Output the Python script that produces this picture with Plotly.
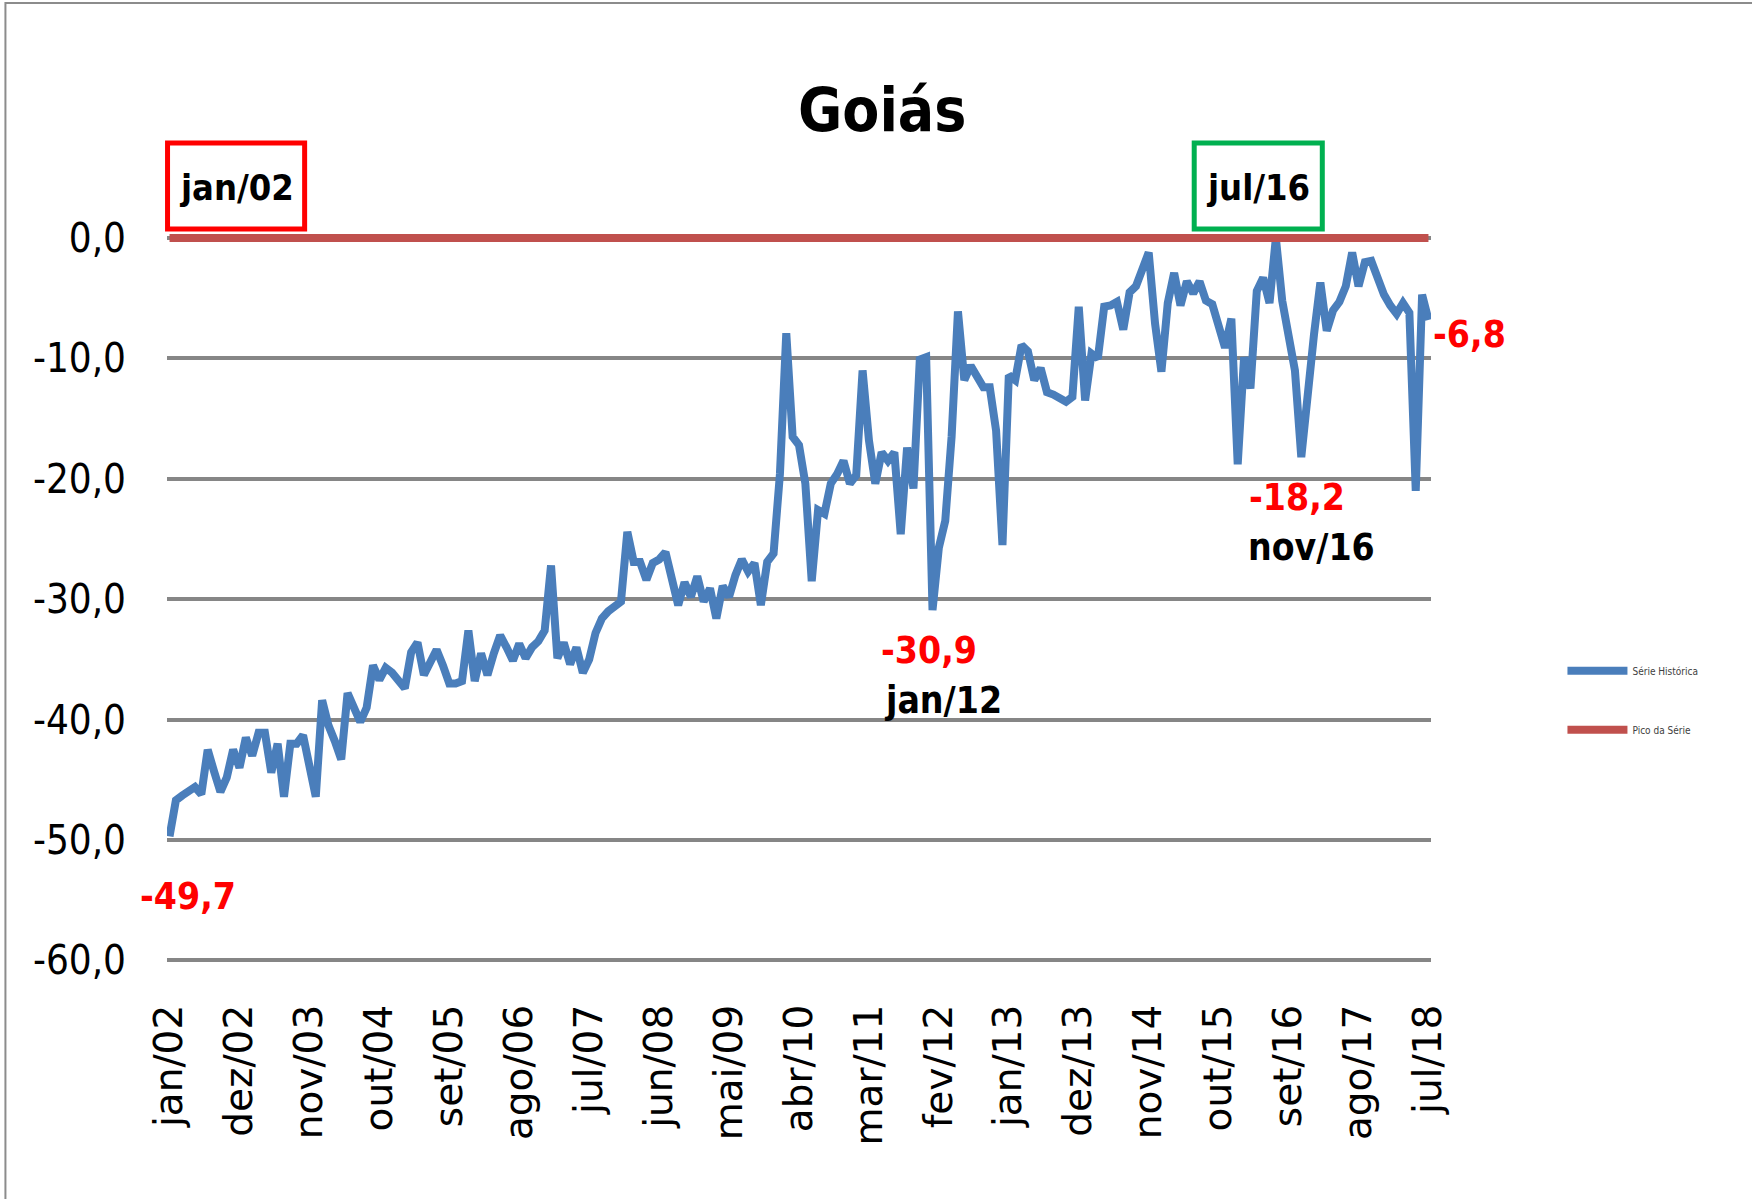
import plotly.graph_objects as go

# ---------------- data ----------------
months_pt = ["jan", "fev", "mar", "abr", "mai", "jun", "jul", "ago", "set", "out", "nov", "dez"]
# monthly series jan/02 .. jul/18
periods = [f"{months_pt[m]}/{str(y)[2:]}" for y in range(2002, 2019) for m in range(12)][:199]

serie_historica = [
    -49.7, -46.7, -46.3, -46.0, -45.6, -46.2, -42.5, -44.3, -46.0, -44.8,
    -42.5, -44.0, -41.5, -43.0, -41.1, -41.1, -44.4, -42.0, -46.4, -42.0,
    -42.0, -41.3, -43.8, -46.4, -38.4, -40.5, -41.8, -43.3, -37.8, -39.2,
    -40.2, -39.0, -35.5, -36.7, -35.7, -36.1, -36.8, -37.4, -34.4, -33.6,
    -36.3, -35.2, -34.2, -35.5, -37.0, -37.0, -36.8, -32.6, -36.8, -34.5,
    -36.3, -34.5, -33.0, -34.0, -35.1, -33.7, -34.9, -34.0, -33.5, -32.6,
    -27.2, -34.9, -33.6, -35.4, -34.0, -36.1, -35.0, -32.8, -31.6, -31.0,
    -30.6, -30.2, -24.4, -26.9, -26.9, -28.4, -27.0, -26.7, -26.1, -28.5,
    -30.5, -28.6, -29.8, -28.1, -30.2, -29.1, -31.6, -28.9, -29.8, -28.0,
    -26.7, -27.7, -27.0, -30.5, -26.9, -26.2, -19.6, -7.9, -16.5, -17.2,
    -20.4, -28.5, -22.6, -22.9, -20.4, -19.6, -18.5, -20.4, -19.7, -11.0,
    -16.8, -20.4, -17.8, -18.5, -17.8, -24.6, -17.4, -20.8, -10.1, -9.9,
    -30.9, -25.7, -23.5, -16.5, -6.1, -11.8, -10.6, -11.5, -12.4, -12.4,
    -16.0, -25.5, -11.4, -11.8, -8.9, -9.4, -11.8, -10.8, -12.8, -13.0,
    -13.4, -13.6, -13.2, -5.7, -13.5, -9.6, -10.0, -5.7, -5.6, -5.3,
    -7.6, -4.5, -4.0, -2.7, -1.2, -7.1, -11.1, -5.4, -2.9, -5.6,
    -3.6, -4.6, -3.6, -5.2, -5.5, -7.3, -9.1, -6.7, -18.8, -9.9,
    -12.5, -4.4, -3.3, -5.4, 0.0, -5.2, -8.3, -11.0, -18.2, -12.4,
    -8.0, -3.7, -7.7, -6.0, -5.3, -4.0, -1.2, -4.0, -2.0, -1.9,
    -3.3, -4.7, -5.6, -6.3, -5.4, -6.2, -21.0, -4.7, -6.8,
]
pico_da_serie = [max(serie_historica)] * len(serie_historica)

x_idx = list(range(len(serie_historica)))
x_tickvals = list(range(0, len(serie_historica), 11))
x_ticktext = [periods[i] for i in x_tickvals]

y_tickvals = [-60, -50, -40, -30, -20, -10, 0]
y_ticktext = ["-60,0", "-50,0", "-40,0", "-30,0", "-20,0", "-10,0", "0,0"]

# minima highlighted with value + period labels
labels_min = [(120, "-30,9", "jan/12"), (178, "-18,2", "nov/16")]

# ---------------- layout geometry (px) ----------------
W, H = 1752, 1199
X_RANGE = [-0.4, 198.4]
Y_RANGE = [-60.3, 1.0]
px_per_x = 6.354
px_per_y = 12.033
x0_px = 170.0   # x of index 0
y0_px = 238.0   # y of value 0
L = x0_px + X_RANGE[0] * px_per_x
R = x0_px + X_RANGE[1] * px_per_x
T = y0_px - Y_RANGE[1] * px_per_y
B = y0_px - Y_RANGE[0] * px_per_y
PW, PH = R - L, B - T


def px_x(px):
    return (px - L) / PW


def px_y(py):
    return (B - py) / PH


FONT_NARROW = "Liberation Sans Narrow, DejaVu Sans Condensed, Arial Narrow, sans-serif"
BLUE = "#4A7EBB"
RED_LINE = "#C0504D"

fig = go.Figure()
fig.add_trace(go.Scatter(
    x=x_idx, y=serie_historica, mode="lines", name="Série Histórica",
    line=dict(color=BLUE, width=8), legendgroup="a",
))
fig.add_trace(go.Scatter(
    x=x_idx, y=pico_da_serie, mode="lines", name="Pico da Série",
    line=dict(color=RED_LINE, width=8), legendgroup="b",
))

annotations = []
# title
annotations.append(dict(
    text="<b>Goiás</b>", xref="paper", yref="paper", x=px_x(882), y=px_y(110),
    xanchor="center", yanchor="middle", showarrow=False,
    font=dict(family=FONT_NARROW, size=60, color="black"),
))
# first value label
annotations.append(dict(
    text="<b>" + f"{serie_historica[0]:.1f}".replace(".", ",") + "</b>",
    x=0, y=serie_historica[0], xref="x", yref="y", showarrow=False,
    xanchor="center", yanchor="middle", xshift=18, yshift=-60,
    font=dict(family=FONT_NARROW, size=37, color="#FF0000"),
))
# last value label
annotations.append(dict(
    text="<b>" + f"{serie_historica[-1]:.1f}".replace(".", ",") + "</b>",
    x=x_idx[-1], y=serie_historica[-1], xref="x", yref="y", showarrow=False,
    xanchor="center", yanchor="middle", xshift=41, yshift=-15,
    font=dict(family=FONT_NARROW, size=37, color="#FF0000"),
))
for i, vtxt, ptxt in labels_min:
    annotations.append(dict(
        text=f"<b>{vtxt}</b>", x=i, y=serie_historica[i], xref="x", yref="y",
        showarrow=False, xanchor="center", yanchor="middle", xshift=-4, yshift=-40,
        font=dict(family=FONT_NARROW, size=37, color="#FF0000"),
    ))
    annotations.append(dict(
        text=f"<b>{ptxt}</b>", x=i, y=serie_historica[i], xref="x", yref="y",
        showarrow=False, xanchor="center", yanchor="middle", xshift=10, yshift=-90,
        font=dict(family=FONT_NARROW, size=37, color="black"),
    ))

# boxed period labels (start of series and peak)
peak_idx = serie_historica.index(max(serie_historica))
boxes = [
    (periods[0], 168, 305, "#FF0000"),
    (periods[peak_idx], 1194, 1322, "#00B050"),
]
shapes = []
for txt, bx0, bx1, col in boxes:
    shapes.append(dict(
        type="rect", xref="paper", yref="paper",
        x0=px_x(bx0), x1=px_x(bx1), y0=px_y(229), y1=px_y(143),
        line=dict(color=col, width=5), fillcolor="white", layer="above",
    ))
    annotations.append(dict(
        text=f"<b>{txt}</b>", xref="paper", yref="paper",
        x=px_x((bx0 + bx1) / 2), y=px_y(187), xanchor="center", yanchor="middle",
        showarrow=False, font=dict(family=FONT_NARROW, size=36, color="black"),
    ))

# outer chart border
shapes.append(dict(
    type="rect", xref="paper", yref="paper",
    x0=px_x(6), x1=px_x(1800), y0=px_y(1250), y1=px_y(3),
    line=dict(color="#8C8C8C", width=2), fillcolor="rgba(0,0,0,0)", layer="below",
))

fig.update_layout(
    width=W, height=H,
    margin=dict(l=L, r=W - R, t=T, b=H - B, pad=0),
    paper_bgcolor="white", plot_bgcolor="white",
    showlegend=True,
    legend=dict(
        x=px_x(1562), y=px_y(656), xanchor="left", yanchor="top",
        font=dict(family=FONT_NARROW, size=10, color="#404040"),
        tracegroupgap=40, traceorder="grouped", itemwidth=60,
        bgcolor="rgba(0,0,0,0)",
    ),
    annotations=annotations,
    shapes=shapes,
    xaxis=dict(
        range=X_RANGE, tickmode="array", tickvals=x_tickvals, ticktext=x_ticktext,
        tickangle=-90, showgrid=False, zeroline=False, showline=False,
        ticks="", ticklabelstandoff=32,
        tickfont=dict(family="DejaVu Sans, Verdana, sans-serif", size=39, color="black"),
    ),
    yaxis=dict(
        range=Y_RANGE, tickmode="array", tickvals=y_tickvals, ticktext=y_ticktext,
        showgrid=True, gridcolor="#868686", gridwidth=3.5, zeroline=False,
        showline=False, ticks="", ticklabelstandoff=40,
        tickfont=dict(family=FONT_NARROW, size=40, color="black"),
    ),
)

fig.write_html("out.html", config={"displayModeBar": False},
               post_script="document.body.style.margin='0';")
